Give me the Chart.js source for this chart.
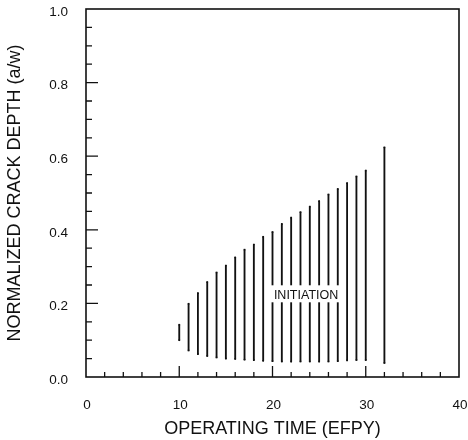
<!DOCTYPE html>
<html>
<head>
<meta charset="utf-8">
<script src="https://cdn.jsdelivr.net/npm/chart.js@4.4.1/dist/chart.umd.min.js"></script>
<style>
  html, body { margin: 0; padding: 0; background: #fff; }
  #wrap { width: 468px; height: 440px; }
</style>
</head>
<body>
<div id="wrap"><canvas id="crackChart"></canvas></div>
<script>
// operating time (EFPY) and crack depth range at each time
const years = [10, 11, 12, 13, 14, 15, 16, 17, 18, 19, 20, 21, 22, 23, 24, 25, 26, 27, 28, 29, 30, 32];
const depthLow = [0.100, 0.072, 0.062, 0.057, 0.053, 0.050, 0.049, 0.047, 0.046, 0.044, 0.043, 0.042, 0.042,
  0.042, 0.042, 0.042, 0.042, 0.043, 0.045, 0.046, 0.046, 0.038];
const depthHigh = [0.142, 0.199, 0.228, 0.258, 0.284, 0.303, 0.325, 0.346, 0.360, 0.381, 0.394, 0.416, 0.433,
  0.448, 0.463, 0.478, 0.496, 0.511, 0.527, 0.545, 0.561, 0.624];

const xMinorTicks = [2, 4, 6, 8, 12, 14, 16, 18, 22, 24, 26, 28, 32, 34, 36, 38];
const xMajorTicks = [10, 20, 30];
const yMinorTicks = [0.05, 0.1, 0.15, 0.25, 0.3, 0.35, 0.45, 0.5, 0.55, 0.65, 0.7, 0.75, 0.85, 0.9, 0.95];
const yMajorTicks = [0.2, 0.4, 0.6, 0.8];

const noteText = "INITIATION";
const notePos = { x: 23.6, y: 0.222 };

const ink = "#111";
const fontFamily = "'Liberation Sans', Arial, Helvetica, sans-serif";

// frame, inward ticks and the label with its white box
const frameAndTicks = {
  id: "frameAndTicks",
  afterDatasetsDraw(chart) {
    const { ctx, chartArea: a, scales: { x, y } } = chart;
    ctx.save();

    ctx.font = "12.5px " + fontFamily;
    const tw = ctx.measureText(noteText).width;
    const cx = x.getPixelForValue(notePos.x);
    const cy = y.getPixelForValue(notePos.y);
    ctx.fillStyle = "#fff";
    ctx.fillRect(cx - tw / 2 - 4, cy - 10, tw + 8, 17);
    ctx.fillStyle = ink;
    ctx.textAlign = "center";
    ctx.textBaseline = "middle";
    ctx.fillText(noteText, cx, cy);

    ctx.strokeStyle = ink;
    ctx.lineWidth = 1.3;
    ctx.beginPath();
    xMinorTicks.forEach(v => {
      const px = x.getPixelForValue(v);
      ctx.moveTo(px, a.bottom); ctx.lineTo(px, a.bottom - 5);
    });
    xMajorTicks.forEach(v => {
      const px = x.getPixelForValue(v);
      ctx.moveTo(px, a.bottom); ctx.lineTo(px, a.bottom - 11);
    });
    yMinorTicks.forEach(v => {
      const py = y.getPixelForValue(v);
      ctx.moveTo(a.left, py); ctx.lineTo(a.left + 6, py);
    });
    yMajorTicks.forEach(v => {
      const py = y.getPixelForValue(v);
      ctx.moveTo(a.left, py); ctx.lineTo(a.left + 12, py);
    });
    ctx.stroke();

    ctx.lineWidth = 1.6;
    ctx.strokeRect(a.left, a.top, a.right - a.left, a.bottom - a.top);
    ctx.restore();
  }
};

const ranges = years.map((yr, i) => ({ x: yr, y: [depthLow[i], depthHigh[i]] }));
const ends = years.flatMap((yr, i) => [{ x: yr, y: depthLow[i] }, { x: yr, y: depthHigh[i] }]);

new Chart(document.getElementById("crackChart"), {
  type: "bar",
  data: {
    datasets: [
      {
        data: ranges,
        backgroundColor: ink,
        borderWidth: 0,
        barThickness: 1.2,
      },
      {
        type: "line",
        data: ends,
        showLine: false,
        pointStyle: "rect",
        pointRadius: 1.2,
        pointBackgroundColor: ink,
        pointBorderWidth: 0,
      },
    ],
  },
  options: {
    responsive: true,
    maintainAspectRatio: false,
    animation: false,
    layout: { autoPadding: false, padding: { top: 9, right: 9, left: 0, bottom: 0 } },
    plugins: { legend: { display: false }, tooltip: { enabled: false } },
    scales: {
      x: {
        type: "linear",
        offset: false,
        min: 0,
        max: 40,
        grid: { display: false, drawTicks: false },
        border: { display: false },
        ticks: { stepSize: 10, padding: 20, labelOffset: 1, color: ink, font: { family: fontFamily, size: 13.5 } },
        title: {
          display: true,
          text: "OPERATING TIME (EFPY)",
          color: ink,
          padding: 0,
          font: { family: fontFamily, size: 18 },
        },
        afterFit: s => {
          s.height = 63;
          s.paddingLeft = 0;
          s.paddingRight = 0;
        },
      },
      y: {
        min: 0,
        max: 1,
        grid: { display: false, drawTicks: false },
        border: { display: false },
        ticks: {
          stepSize: 0.2,
          padding: 18,
          labelOffset: 3,
          color: ink,
          font: { family: fontFamily, size: 13.5 },
          callback: v => v.toFixed(1),
        },
        title: {
          display: true,
          text: "NORMALIZED CRACK DEPTH (a/w)",
          color: ink,
          padding: { top: 4, bottom: 0 },
          font: { family: fontFamily, size: 18 },
        },
        afterFit: s => {
          s.width = 86;
          s.paddingTop = 0;
          s.paddingBottom = 0;
        },
      },
    },
  },
  plugins: [frameAndTicks],
});
</script>
</body>
</html>
